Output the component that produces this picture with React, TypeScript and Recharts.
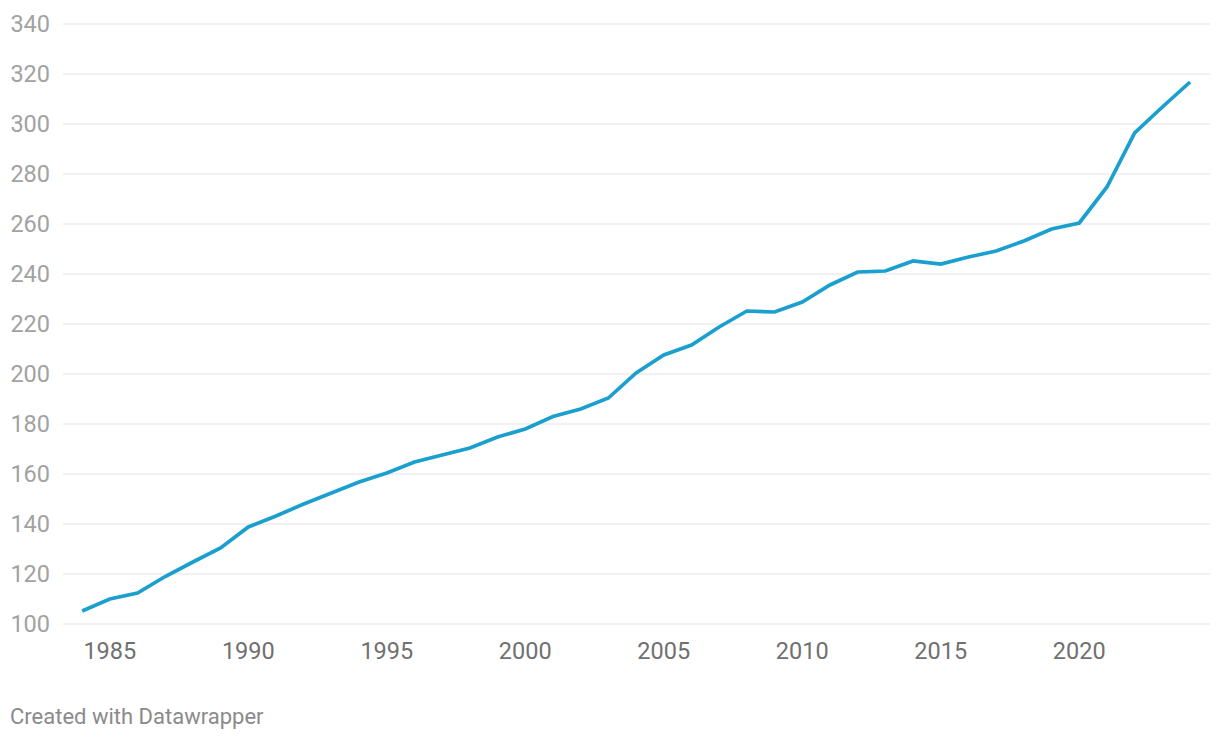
import { CartesianGrid, Line, LineChart, XAxis, YAxis } from "recharts";

const years = [
  1984, 1985, 1986, 1987, 1988, 1989, 1990, 1991, 1992, 1993, 1994, 1995, 1996,
  1997, 1998, 1999, 2000, 2001, 2002, 2003, 2004, 2005, 2006, 2007, 2008, 2009,
  2010, 2011, 2012, 2013, 2014, 2015, 2016, 2017, 2018, 2019, 2020, 2021, 2022,
  2023, 2024,
];

const values = [
  105.2, 110, 112.4, 119, 124.8, 130.4, 138.8, 143.2, 148, 152.4, 156.8, 160.4,
  164.8, 167.6, 170.4, 174.8, 178, 183, 186, 190.4, 200.4, 207.6, 211.6, 218.8,
  225.2, 224.8, 228.8, 235.6, 240.8, 241.2, 245.2, 244, 246.8, 249.2, 253.2, 258,
  260.4, 274.8, 296.4, 306.8, 316.8,
];

const xTicks = [1985, 1990, 1995, 2000, 2005, 2010, 2015, 2020];
const yTicks = [100, 120, 140, 160, 180, 200, 220, 240, 260, 280, 300, 320, 340];

const data = years.map((year, i) => ({ year, value: values[i] }));

export default function App() {
  return (
    <div
      style={{
        position: "absolute",
        left: 0,
        top: 0,
        width: 1220,
        height: 740,
        background: "#fff",
        fontFamily: "Roboto, sans-serif",
      }}
    >
      <LineChart
        width={1220}
        height={680}
        data={data}
        margin={{ top: 24, right: 10, bottom: 0, left: 0 }}
      >
        <CartesianGrid vertical={false} stroke="#e4e4e4" strokeWidth={1.2} />
        <XAxis
          dataKey="year"
          type="number"
          domain={[1983.31, 2024.72]}
          allowDataOverflow
          ticks={xTicks}
          height={56}
          axisLine={false}
          tickLine={false}
          tickSize={0}
          tickMargin={18}
          tick={{ fill: "#707070", fontSize: 23.5, fontFamily: "Roboto" }}
        />
        <YAxis
          domain={[100, 340]}
          ticks={yTicks}
          width={63}
          axisLine={false}
          tickLine={false}
          tickSize={0}
          tickMargin={13}
          tick={{ fill: "#a2a2a2", fontSize: 23.5, fontFamily: "Roboto" }}
        />
        <Line
          type="linear"
          dataKey="value"
          stroke="#1b9fcf"
          strokeWidth={3.7}
          dot={false}
          isAnimationActive={false}
        />
      </LineChart>
      <div
        style={{
          position: "absolute",
          left: 10,
          top: 704,
          fontSize: 22,
          lineHeight: "26px",
          color: "#8a8a8a",
        }}
      >
        Created with Datawrapper
      </div>
    </div>
  );
}
